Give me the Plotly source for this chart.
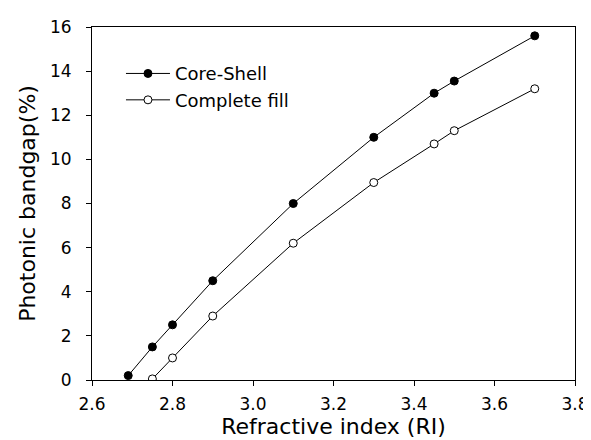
import plotly.graph_objects as go

ri_core = [2.69, 2.75, 2.80, 2.90, 3.10, 3.30, 3.45, 3.50, 3.70]
gap_core = [0.2, 1.5, 2.5, 4.5, 8.0, 11.0, 13.0, 13.55, 15.6]
ri_fill = [2.75, 2.80, 2.90, 3.10, 3.30, 3.45, 3.50, 3.70]
gap_fill = [0.05, 1.0, 2.9, 6.2, 8.95, 10.7, 11.3, 13.2]
x_ticks = [2.6, 2.8, 3.0, 3.2, 3.4, 3.6, 3.8]
x_labels = ["2.6", "2.8", "3.0", "3.2", "3.4", "3.6", "3.8"]
y_ticks = [0, 2, 4, 6, 8, 10, 12, 14, 16]

fig = go.Figure()
fig.add_trace(go.Scatter(x=ri_core, y=gap_core, mode="lines+markers", name="Core-Shell",
                         line=dict(color="black", width=1),
                         marker=dict(symbol="circle", size=8, color="black",
                                     line=dict(color="black", width=1))))
fig.add_trace(go.Scatter(x=ri_fill, y=gap_fill, mode="lines+markers", name="Complete fill",
                         line=dict(color="black", width=1),
                         marker=dict(symbol="circle", size=8, color="white",
                                     line=dict(color="black", width=1))))

fig.update_layout(
    width=591, height=440,
    margin=dict(l=84, r=24, t=19, b=68, autoexpand=False),
    paper_bgcolor="white", plot_bgcolor="white",
    font=dict(family="DejaVu Sans", color="black", size=17),
    showlegend=True,
    legend=dict(x=0.06, y=0.92, xanchor="left", yanchor="top",
                bgcolor="rgba(0,0,0,0)", font=dict(size=18),
                tracegroupgap=0, itemwidth=44),
    xaxis=dict(range=[2.6, 3.8], tickvals=x_ticks, ticktext=x_labels,
               ticks="outside", ticklen=5, tickcolor="black",
               ticklabelstandoff=4,
               showline=True, linecolor="black", linewidth=1, mirror=True,
               showgrid=False, zeroline=False, automargin=False,
               title=dict(text="Refractive index (RI)", font=dict(size=22), standoff=4)),
    yaxis=dict(range=[0, 16], tickvals=y_ticks,
               ticks="outside", ticklen=5, tickcolor="black",
               ticklabelstandoff=11,
               showline=True, linecolor="black", linewidth=1, mirror=True,
               showgrid=False, zeroline=False, automargin=False,
               title=dict(text="Photonic bandgap(%)", font=dict(size=22), standoff=8)),
)

fig.write_html("out.html")
